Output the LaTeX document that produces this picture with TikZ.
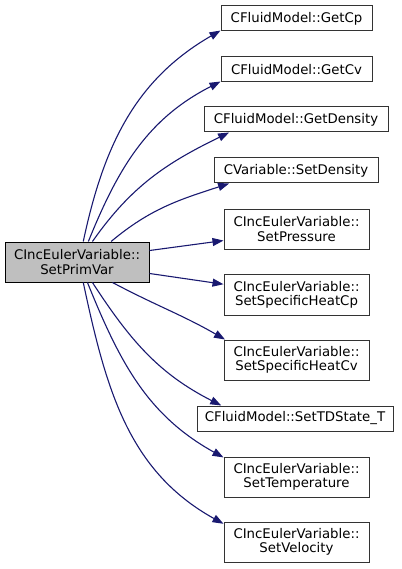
\documentclass[tikz,border=0pt]{standalone}
\usepackage{fontspec}
\setmainfont{DejaVu Sans}
\usepackage{xcolor}
\usepackage{tikz}
\usetikzlibrary{arrows.meta}
\definecolor{callblue}{RGB}{25,25,112}
\definecolor{rootgray}{RGB}{191,191,191}

\begin{document}
\begin{tikzpicture}[
    x=1pt, y=1pt,
    fn/.style={rectangle, draw=black!80, line width=1pt, fill=white, align=center, inner sep=2pt, font=\fontsize{13.3}{14.3}\selectfont},
    root/.style={fn, fill=rootgray, draw=black},
    call/.style={-{Triangle[length=11pt, width=8pt]}, draw=callblue, line width=1.1pt}
]
\useasboundingbox (0,0) rectangle (401,-569);

% Caller
\node[root, minimum width=144pt, minimum height=40pt] (main) at (77,-262) {CIncEulerVariable::\\SetPrimVar};

% Callees
\node[fn, minimum width=151pt, minimum height=25pt] (getcp) at (296.5,-18.5) {CFluidModel::GetCp};
\node[fn, minimum width=151pt, minimum height=25pt] (getcv) at (296.5,-69.5) {CFluidModel::GetCv};
\node[fn, minimum width=184pt, minimum height=25pt] (getdensity) at (296,-119.5) {CFluidModel::GetDensity};
\node[fn, minimum width=164pt, minimum height=25pt] (setdensity) at (296,-170.5) {CVariable::SetDensity};
\node[fn, minimum width=145pt, minimum height=40pt] (setpressure) at (296.5,-229) {CIncEulerVariable::\\SetPressure};
\node[fn, minimum width=145pt, minimum height=41pt] (setcp) at (296.5,-294.5) {CIncEulerVariable::\\SetSpecificHeatCp};
\node[fn, minimum width=145pt, minimum height=40pt] (setcv) at (296.5,-360) {CIncEulerVariable::\\SetSpecificHeatCv};
\node[fn, minimum width=196pt, minimum height=25pt] (settdstate) at (295,-418.5) {CFluidModel::SetTDState\_T};
\node[fn, minimum width=145pt, minimum height=40pt] (settemp) at (296.5,-477) {CIncEulerVariable::\\SetTemperature};
\node[fn, minimum width=145pt, minimum height=40pt] (setvel) at (296.5,-542) {CIncEulerVariable::\\SetVelocity};

% Calls
\draw[call] (main.73) to[out=78, in=210] (getcp.189);
\draw[call] (main.61) to[out=68, in=207] (getcv.189);
\draw[call] (main.53) to[out=55, in=206] (getdensity.191);
\draw[call] (main.31) to[out=40, in=198] (setdensity.191);
\draw[call] (main.9) -- (setpressure.189);
\draw[call] (main.-9) -- (setcp.172);
\draw[call] (main.-30) to[out=-28, in=150] (setcv.164);
\draw[call] (main.-53) to[out=-57, in=153] (settdstate.170);
\draw[call] (main.-63) to[out=-68, in=151] (settemp.165);
\draw[call] (main.-73) to[out=-78, in=151] (setvel.166);

\end{tikzpicture}
\end{document}
